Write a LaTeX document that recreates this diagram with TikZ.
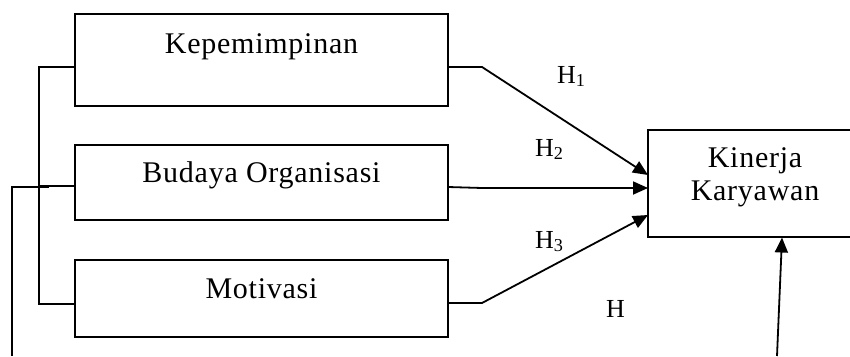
\documentclass[tikz,border=0pt]{standalone}
\usepackage{fontspec}
\setmainfont{Liberation Serif}
\newfontfamily\spacedserif[LetterSpace=2.5]{Liberation Serif}
\usetikzlibrary{arrows.meta}
\begin{document}
\begin{tikzpicture}[x=1pt,y=-1pt,
  box/.style={draw,line width=1.8pt,inner sep=0pt},
  lbl/.style={anchor=base,inner sep=0pt,font=\spacedserif\fontsize{30}{33}\selectfont},
  hyp/.style={anchor=base west,inner sep=0pt,font=\fontsize{26}{28}\selectfont},
  link/.style={line width=1.8pt},
  arr/.style={line width=1.8pt,-{Triangle[length=15pt,width=13pt]}}]
\useasboundingbox (0,0) rectangle (850,356);
% boxes
\node[box,minimum width=373pt,minimum height=92pt] (kep) at (261.5,60) {};
\node[box,minimum width=373pt,minimum height=75pt] (bud) at (261.5,182.5) {};
\node[box,minimum width=373pt,minimum height=77pt] (mot) at (261.5,298.5) {};
\begin{scope}
\clip (0,0) rectangle (850,356);
\node[box,minimum width=214pt,minimum height=107pt] (kin) at (755,183.5) {};
\end{scope}
% texts
\node[lbl] (tkep) at (261.5,53) {Kepemimpinan};
\node[lbl] (tbud) at (261.5,182) {Budaya Organisasi};
\node[lbl] (tmot) at (261.5,298) {Motivasi};
\node[lbl] (tkin1) at (755,167) {Kinerja};
\node[lbl] (tkin2) at (755,200) {Karyawan};
% hypothesis labels
\node[hyp] (h1) at (557,83) {H\textsubscript{1}};
\node[hyp] (h2) at (535,156) {H\textsubscript{2}};
\node[hyp] (h3) at (535,248) {H\textsubscript{3}};
\node[hyp] (h4) at (606,317) {H};
% coordinates
\coordinate (ke) at (448,67);
\coordinate (kb) at (482,67);
\coordinate (kt) at (648,175);
\coordinate (be) at (448,187);
\coordinate (bb) at (482,188);
\coordinate (bt) at (648,188);
\coordinate (me) at (448,303);
\coordinate (mb) at (482,303);
\coordinate (mt) at (648,215);
\coordinate (ub) at (777,356);
\coordinate (ut) at (782,237.5);
\coordinate (lk) at (75,67);
\coordinate (lb) at (75,186);
\coordinate (lm) at (75,304);
\coordinate (v1) at (39,67);
\coordinate (v2) at (39,186);
\coordinate (v3) at (39,304);
\coordinate (w0) at (49,187);
\coordinate (w1) at (12,187);
\coordinate (w2) at (12,356);
% arrows into Kinerja
\draw[arr] (ke) -- (kb) -- (kt);
\draw[arr] (be) -- (bb) -- (bt);
\draw[arr] (me) -- (mb) -- (mt);
\draw[arr] (ub) -- (ut);
% left bracket
\draw[link] (lk) -- (v1) -- (v3) -- (lm);
\draw[link] (lb) -- (v2);
\draw[link] (w0) -- (w1) -- (w2);
\end{tikzpicture}
\end{document}
